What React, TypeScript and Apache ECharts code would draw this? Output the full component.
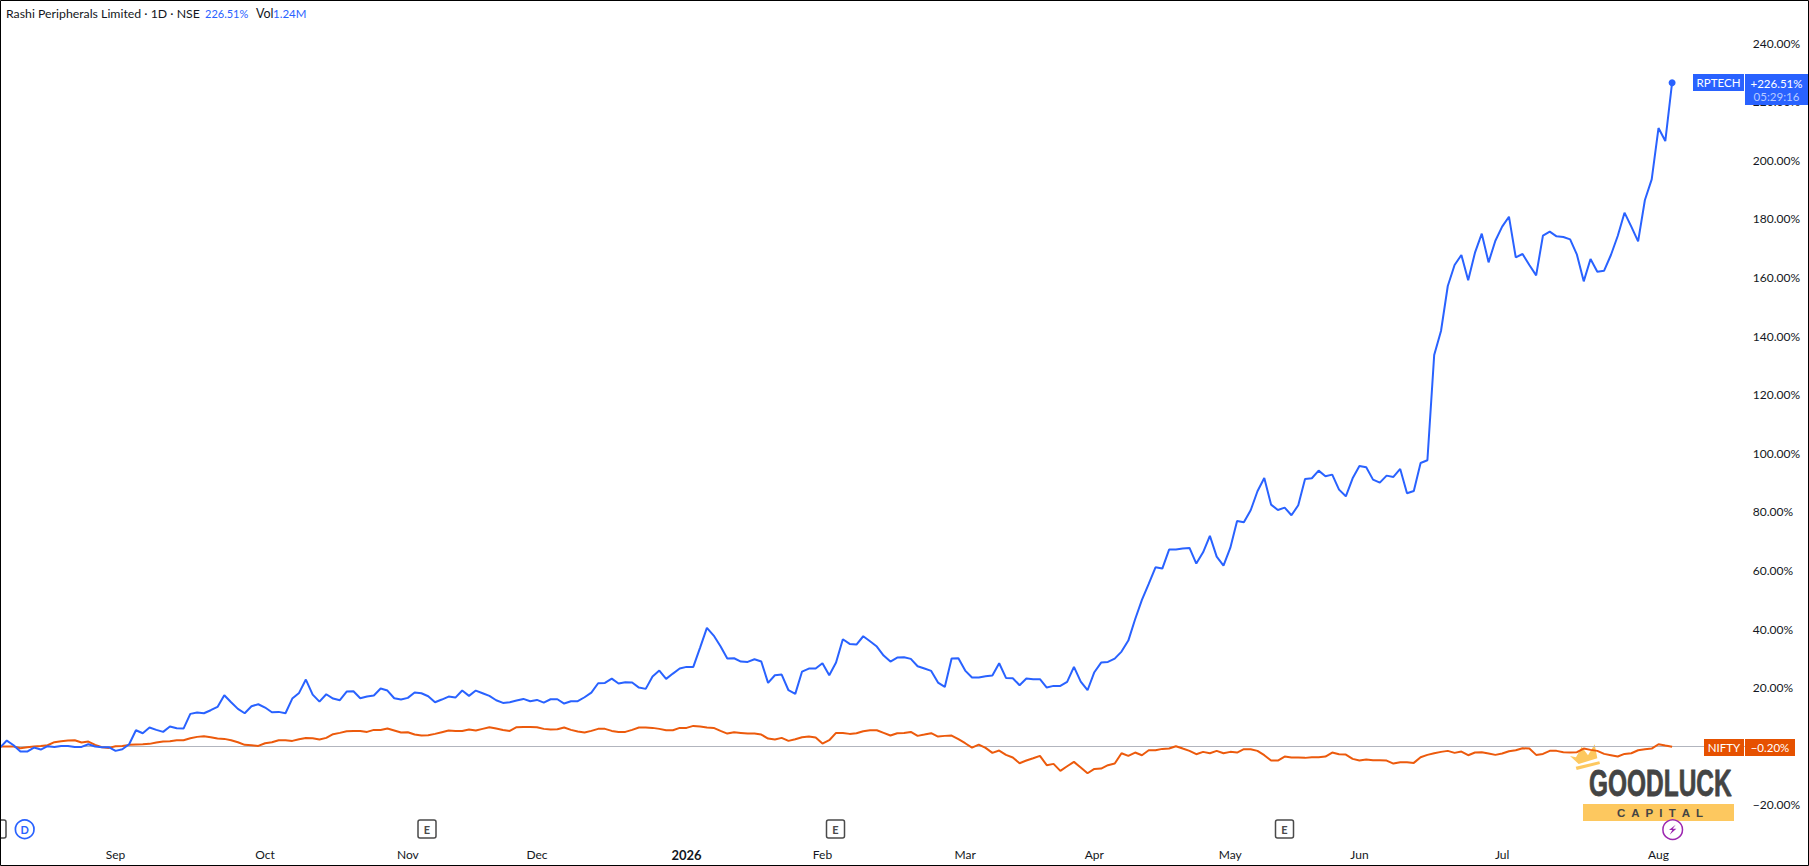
import React, { useEffect, useRef } from "react";
import * as echarts from "echarts";

const W = 1809;
const H = 866;
const FONT = "Lato, 'Noto Sans', sans-serif";
const BLUE = "#2962ff";
const ORANGE = "#e65100";
const INK = "#131722";

// Percent change, in segments from left to right.
const rptechAug = [-.46,1.93,.34,-1.82,-1.82,-.46,-1.14,0,-.23,.11,.11,
-.23,-.23,.68,-.11,-.34,-.34,-1.59,-1.02,.68,5.46,
4.44,6.37,5.57,4.89,6.71,6.14,6.03,11.04,11.49,11.26,
12.29,13.42,17.41,15.02,12.74,11.26,13.65,14.33,13.2,11.6,
11.72,11.26,16.27,18.2,22.75,17.63,15.24,17.75,16.27,15.7,
18.66,18.77,16.38,16.95,17.29,19.68,19,16.38,15.93,16.5,
18.32,18.09,17.06,15.02,15.93,16.95];
const rptechNov = [16.6,19,17.18,19,18.09,17.18,15.7,14.79,15.02,15.59,
16.15,15.36,15.81,14.9,16.04,16.04,14.56,15.36,15.36,16.72,
18.32,21.5,21.62,23.09,21.39,21.84,21.73,20.02,19.57,23.78,
25.82,22.98,24.8,26.51,27.08,27.08,33.67,40.39,37.77,34.13,
29.92,30.03,28.9,28.78,29.69,28.9,21.62,24.23,24.46,19.11,
17.86,25.48,26.51,26.51,28.33,24.23,28.56,36.52,34.93,34.7,
37.54,35.84,34.02];
const rptechFeb = [30.94,28.9,30.26,30.38,29.81,27.3,26.51,25.71,21.73,20.25,
29.92,30.03,25.82,23.44,23.44,23.89,24.12,28.33,23.32,23.21,
20.82,23.09,22.87,22.87,20.02,20.59,20.59,21.96,27.08,22.07,
19.11,25.26,28.56];
const rptechApr = [28.78,29.92,32.31,36.06,43.34,49.94,55.4,61.09,60.64,67.12,
67.12,67.46,67.69,62.34,66.21,71.79,64.73,61.66,67.69,76.9,
76.45,80.55,87.03,91.58,82.48,80.66,81.46,78.84,82.25,91.24,
91.47,94.08,92.15,92.72,87.6,85.32,91.47,95.68,95.22,91.01,
89.99,92.38,91.92,94.65,86.35,87.14,96.7,97.61];
const rptechJun = [133.56,141.75,157.11,164.28,167.69,159.05,168.49,174.97,165.19,172.58,
177.36,180.77,166.89,168.03,164.28,160.75,174.29,175.66,174.06,173.83,
173.04,167.8,158.7,166.32,162,162.35,167.69,174.17,182.14,177.36,
172.35,186.46,193.51,211.04,206.6,226.51];

const niftyAug = [-.11,-.11,-.11,-.68,-.34,-.11,.11,.34,1.37,1.71,1.93,
2.05,1.25,1.59,.46,-.34,-.57,0,.11,.46,.57,
.68,.8,1.25,1.59,1.71,2.05,2.05,2.73,3.19,3.41,
3.07,2.62,2.5,2.05,1.37,.46,.34,.11,1.02,1.37,
2.05,2.05,1.82,2.39,2.84,2.73,2.28,2.84,4.1,4.55,
5.12,5.23,5.23,4.89,5.57,5.57,6.03,5.35,4.66,4.78,
3.98,3.64,3.75,4.21,4.78,5.35];
const niftyNov = [5.23,5.23,5.69,5.35,5.92,6.48,6.03,5.57,5.23,6.48,
6.6,6.6,6.48,5.92,5.69,5.8,6.37,5.57,5.01,4.66,
5.23,5.92,5.92,5.23,4.89,4.89,5.57,6.37,6.37,6.26,
5.92,5.46,5.46,6.26,6.26,6.94,6.71,6.37,6.26,5.23,
4.32,4.78,4.55,4.32,4.32,3.98,2.62,2.28,2.84,1.82,
2.39,3.07,3.3,2.96,.91,2.05,4.55,4.55,4.21,4.44,
5.12,5.46,5.46];
const niftyFeb = [4.55,3.64,4.44,4.55,4.89,3.53,3.98,4.44,3.3,3.53,
3.64,2.39,1.02,-.46,.57,-.57,-2.28,-1.48,-2.96,-3.87,
-5.8,-4.89,-4.1,-3.3,-6.48,-6.03,-8.42,-6.83,-5.35,-7.28,
-9.22,-7.74,-7.62];
const niftyApr = [-6.48,-5.92,-2.39,-3.3,-2.16,-3.07,-1.37,-1.37,-.91,-.8,
0,-.8,-1.59,-2.73,-1.93,-2.39,-1.59,-2.39,-1.93,-2.16,
-1.02,-1.02,-1.59,-3.07,-4.89,-4.89,-3.53,-3.87,-3.87,-3.98,
-3.75,-3.75,-3.53,-2.16,-2.73,-2.84,-4.32,-4.89,-4.55,-4.78,
-4.78,-4.89,-5.92,-5.46,-5.46,-5.69,-3.75,-2.96];
const niftyJun = [-2.39,-1.93,-1.59,-2.28,-1.82,-3.07,-2.16,-2.05,-2.5,
-2.96,-2.5,-1.71,-1.37,-.68,-.8,-2.96,-2.62,-1.59,-1.59,
-2.05,-2.16,-2.05,-.8,-1.25,-1.59,-2.62,-3.07,-3.53,-2.62,
-2.39,-1.37,-1.02,-.8,.68,.23,-.2];

const monthLabels = ["Sep", "Oct", "Nov", "Dec", "2026", "Feb", "Mar", "Apr", "May", "Jun", "Jul", "Aug"];
const monthSlots = [17, 39, 60, 79, 101, 121, 142, 161, 181, 200, 221, 244];

const TRAIL = 11;
const STEP = 6.81;
const FIRST_X = -3.31;

const rptech = [...rptechAug, ...rptechNov, ...rptechFeb, ...rptechApr, ...rptechJun];
const nifty = [...niftyAug, ...niftyNov, ...niftyFeb, ...niftyApr, ...niftyJun];
const slots = Array.from({ length: rptech.length + TRAIL }, (_, i) => `d${i}`);
const labelAt: Record<number, string> = {};
monthSlots.forEach((s, i) => { labelAt[s] = monthLabels[i]; });

const txt = (x: number, y: number, text: string, fill: string, fontSize: number, extra: any = {}) => ({
  type: "text", x, y, z: extra.z ?? 20, scaleX: extra.scaleX,
  style: {
    text, fill, fontSize, fontFamily: extra.fontFamily ?? FONT,
    fontWeight: extra.fontWeight ?? "normal",
    textAlign: extra.align ?? "left", textVerticalAlign: "middle",
    stroke: extra.stroke, lineWidth: extra.lineWidth,
  },
});
const box = (x: number, y: number, width: number, height: number, fill: string, z = 19) => ({
  type: "rect", z, shape: { x, y, width, height }, style: { fill },
});
const eventBox = (x: number) => [
  { type: "rect", z: 5, shape: { x, y: 820, width: 18, height: 18, r: 2 }, style: { fill: "#fff", stroke: "#4a4a4a", lineWidth: 1.5 } },
  txt(x + 9, 829, "E", "#4a4a4a", 11, { align: "center", fontWeight: "bold", z: 6 }),
];
const zoomPts = (pts: number[][], ox: number, oy: number) => pts.map(([a, b]) => [ox + a / 3, oy + b / 3]);

export default function App() {
  const ref = useRef<HTMLDivElement>(null);
  useEffect(() => {
    document.body.style.margin = "0";
    const chart = echarts.init(ref.current!, undefined, { renderer: "svg" });
    chart.setOption({
      animation: false,
      backgroundColor: "#ffffff",
      textStyle: { fontFamily: FONT },
      grid: {
        left: FIRST_X,
        width: STEP * (slots.length - 1),
        top: 43.2,
        height: 761.6,
      },
      xAxis: {
        type: "category",
        data: slots,
        boundaryGap: false,
        axisLine: { show: false },
        axisTick: { show: false },
        splitLine: { show: false },
        axisLabel: {
          margin: 44,
          color: INK,
          fontSize: 12,
          fontFamily: FONT,
          hideOverlap: false,
          interval: (i: number) => labelAt[i] !== undefined,
          formatter: (_: string, i: number) => {
            const s = labelAt[i] ?? "";
            return s === "2026" ? `{y|${s}}` : s;
          },
          rich: { y: { fontWeight: "bold", fontSize: 13, color: INK, fontFamily: FONT } },
        },
      },
      yAxis: {
        type: "value",
        position: "right",
        min: -20,
        max: 240,
        interval: 20,
        axisLine: { show: false },
        axisTick: { show: false },
        splitLine: { show: false },
        axisLabel: {
          margin: 6,
          align: "left",
          color: INK,
          fontSize: 12,
          fontFamily: FONT,
          formatter: (v: number) => `${v < 0 ? "\u2212" : ""}${Math.abs(v).toFixed(2)}%`,
        },
      },
      series: [
        {
          name: "NIFTY",
          type: "line",
          data: nifty,
          showSymbol: false,
          lineStyle: { color: "#ec5a0c", width: 2 },
          itemStyle: { color: ORANGE },
          z: 3,
          markLine: {
            silent: true,
            symbol: "none",
            label: { show: false },
            lineStyle: { color: "#b2b5be", width: 1, type: "solid" },
            data: [{ yAxis: 0 }],
            z: 1,
          },
        },
        {
          name: "RPTECH",
          type: "line",
          data: rptech,
          showSymbol: false,
          lineStyle: { color: BLUE, width: 2 },
          itemStyle: { color: BLUE },
          z: 4,
          markPoint: {
            symbol: "circle",
            symbolSize: 7,
            silent: true,
            label: { show: false },
            itemStyle: { color: BLUE },
            data: [{ coord: [slots[rptech.length - 1], rptech[rptech.length - 1]] }],
          },
        },
      ],
      graphic: {
        elements: [
          // Header
          txt(6, 13, "Rashi Peripherals Limited \u00b7 1D \u00b7 NSE", INK, 12.3),
          txt(205, 13, "226.51%", BLUE, 11),
          txt(256, 13, "Vol", INK, 12.5),
          txt(273, 13, "1.24M", BLUE, 11.5),

          // Price tags
          box(1693, 74, 51, 17, BLUE),
          txt(1718.5, 82.5, "RPTECH", "#ffffff", 11.5, { align: "center" }),
          box(1745, 74, 63, 31, BLUE),
          txt(1776.5, 83, "+226.51%", "#ffffff", 11.5, { align: "center" }),
          txt(1776.5, 96, "05:29:16", "#b7cbff", 11.5, { align: "center" }),
          box(1704, 739, 40, 17, ORANGE),
          txt(1724, 747.5, "NIFTY", "#ffffff", 11.5, { align: "center" }),
          box(1745, 739, 50, 17, ORANGE),
          txt(1770, 747.5, "\u22120.20%", "#ffffff", 11.5, { align: "center" }),

          // Watermark
          { type: "polygon", z: 1, shape: { points: zoomPts([[30, 48], [48, 52], [65, 20], [84, 46], [104, 13], [112, 55], [56, 72]], 1560, 740) }, style: { fill: "#fdc85f" } },
          { type: "polygon", z: 1, shape: { points: zoomPts([[47, 80], [118, 64], [120, 72], [50, 90]], 1560, 740) }, style: { fill: "#fdc85f" } },
          txt(1589, 784, "GOODLUCK", "#444444", 36, { fontFamily: "'Liberation Sans Narrow', 'Liberation Sans', sans-serif", fontWeight: "bold", scaleX: 0.68, stroke: "#444444", lineWidth: 0.8, z: 2 }),
          box(1583, 804, 151, 17, "#fdc85f", 2),
          txt(1660, 812.5, "C  A  P  I  T  A  L", "#444444", 11.5, { fontFamily: "'Liberation Sans', sans-serif", fontWeight: "bold", align: "center", z: 3 }),

          // Event markers
          { type: "rect", z: 5, shape: { x: -12, y: 820, width: 18, height: 18, r: 2 }, style: { fill: "#fff", stroke: "#4a4a4a", lineWidth: 1.5 } },
          { type: "circle", z: 5, shape: { cx: 24.7, cy: 829.3, r: 9.3 }, style: { fill: "#fff", stroke: BLUE, lineWidth: 1.7 } },
          txt(24.7, 829.3, "D", BLUE, 11, { align: "center", fontWeight: "bold", z: 6 }),
          ...eventBox(418),
          ...eventBox(826.5),
          ...eventBox(1275.5),
          { type: "circle", z: 5, shape: { cx: 1672.7, cy: 829.7, r: 9.8 }, style: { fill: "#fff", stroke: "#9c27b0", lineWidth: 1.5 } },
          { type: "polygon", z: 6, shape: { points: zoomPts([[527, 314], [507, 330], [517, 330], [509, 344], [529, 326], [518, 326]], 1500, 720) }, style: { fill: "#9c27b0" } },

          // Frame
          { type: "rect", z: 30, shape: { x: 0.5, y: 0.5, width: W - 1, height: H - 1 }, style: { fill: "none", stroke: "#000000", lineWidth: 1 } },
        ],
      },
    });
    return () => chart.dispose();
  }, []);
  return <div ref={ref} style={{ position: "fixed", left: 0, top: 0, width: W, height: H }} />;
}
